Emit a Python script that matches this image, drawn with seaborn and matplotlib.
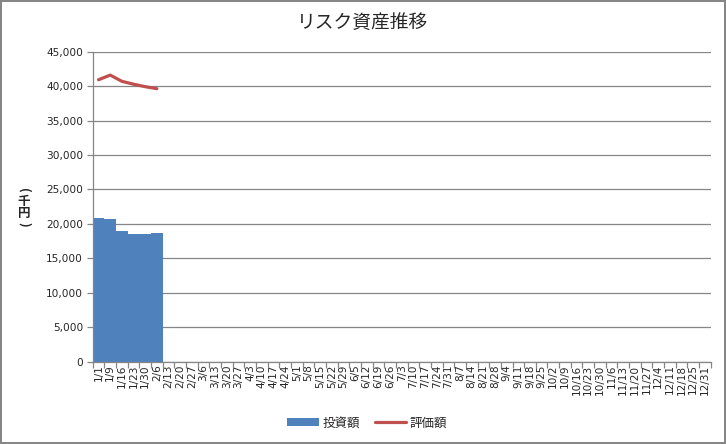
import matplotlib
matplotlib.use("Agg")
import matplotlib.pyplot as plt
import seaborn as sns
import numpy as np
import pandas as pd
from matplotlib.patches import Patch
from matplotlib.lines import Line2D
from matplotlib.ticker import FuncFormatter, FixedLocator

dates = ["1/1", "1/9", "1/16", "1/23", "1/30", "2/6", "2/13", "2/20", "2/27",
         "3/6", "3/13", "3/20", "3/27", "4/3", "4/10", "4/17", "4/24",
         "5/1", "5/8", "5/15", "5/22", "5/29", "6/5", "6/12", "6/19", "6/26",
         "7/3", "7/10", "7/17", "7/24", "7/31", "8/7", "8/14", "8/21", "8/28",
         "9/4", "9/11", "9/18", "9/25", "10/2", "10/9", "10/16", "10/23", "10/30",
         "11/6", "11/13", "11/20", "11/27", "12/4", "12/11", "12/18", "12/25", "12/31"]
data_dates = ["1/1", "1/9", "1/16", "1/23", "1/30", "2/6"]
investment = [20800, 20650, 18950, 18530, 18520, 18680]   # 投資額
valuation = [40930, 41600, 40700, 40280, 39920, 39630]    # 評価額

yticks = [0, 5000, 10000, 15000, 20000, 25000, 30000, 35000, 40000, 45000]

sns.set_theme(style="white")
plt.rcParams['font.family'] = ['Noto Sans CJK JP', 'DejaVu Sans']

fig = plt.figure(figsize=(7.26, 4.44), dpi=100)
fig.patch.set_facecolor("white")
fig.patch.set_edgecolor("#868686")
fig.patch.set_linewidth(1.5)
ax = fig.add_axes([0.1277, 0.1854, 0.979 - 0.1277, 0.8836 - 0.1854])

grid_c = "#868686"
bar_c = "#4F81BD"
df = pd.DataFrame({"date": data_dates, "inv": investment, "val": valuation})
sns.barplot(data=df, x="date", y="inv", order=dates, color=bar_c,
            width=1.0, saturation=1, ax=ax, zorder=2, linewidth=0,
            edgecolor=bar_c)
pos = [dates.index(d) for d in data_dates]
ax.plot(pos, valuation, color="#C0504D", lw=2.3, zorder=3, solid_capstyle="round")

ax.set_xlim(-0.5, len(dates) - 0.5)
ax.set_ylim(0, 45000)
ax.set_yticks(yticks)
ax.yaxis.set_major_formatter(FuncFormatter(lambda v, p: f"{int(v):,}"))
ax.grid(axis="y", color=grid_c, lw=0.9, zorder=0)
ax.set_axisbelow(True)

ax.set_xticks(range(len(dates)))
ax.set_xticklabels(dates, rotation=90, fontsize=7.6, va="top", ha="center")
ax.xaxis.set_minor_locator(FixedLocator(np.arange(-0.5, len(dates), 1.0)))
ax.tick_params(axis="x", which="major", length=0, pad=2)
ax.tick_params(axis="x", which="minor", length=4, color=grid_c, width=0.9, direction="out", bottom=True)
ax.tick_params(axis="y", length=4, color=grid_c, width=0.9, direction="out", left=True, labelsize=7.6, pad=3)
for lbl in ax.get_yticklabels() + ax.get_xticklabels():
    lbl.set_fontfamily(['DejaVu Sans'])

for s in ["top", "right"]:
    ax.spines[s].set_visible(False)
for s in ["left", "bottom"]:
    ax.spines[s].set_color(grid_c)
    ax.spines[s].set_linewidth(0.9)

ax.set_xlabel("")
ax.set_ylabel("")
# vertical (tategaki) axis title: (千円)
yl_x = 24 / 726
fig.text(yl_x, 1 - 190 / 444, "(", fontsize=9, rotation=-90, ha="center", va="center", fontweight="bold")
fig.text(yl_x, 1 - 201 / 444, "千", fontsize=9, ha="center", va="center", fontweight="bold")
fig.text(yl_x, 1 - 214 / 444, "円", fontsize=9, ha="center", va="center", fontweight="bold")
fig.text(yl_x, 1 - 224 / 444, ")", fontsize=9, rotation=-90, ha="center", va="center", fontweight="bold")

fig.text(0.5, 1 - 22 / 444, "リスク資産推移", fontsize=13.5, ha="center", va="center")

handles = [Patch(facecolor=bar_c, edgecolor="none", label="投資額"),
           Line2D([0], [0], color="#C0504D", lw=2.3, label="評価額")]
fig.legend(handles=handles, loc="center", bbox_to_anchor=(0.506, 0.047), ncol=2,
           frameon=False, fontsize=9, handlelength=2.5, handleheight=0.6,
           columnspacing=1.2, handletextpad=0.3)

fig.savefig("out.png", dpi=100, facecolor=fig.get_facecolor(), edgecolor=fig.get_edgecolor())
